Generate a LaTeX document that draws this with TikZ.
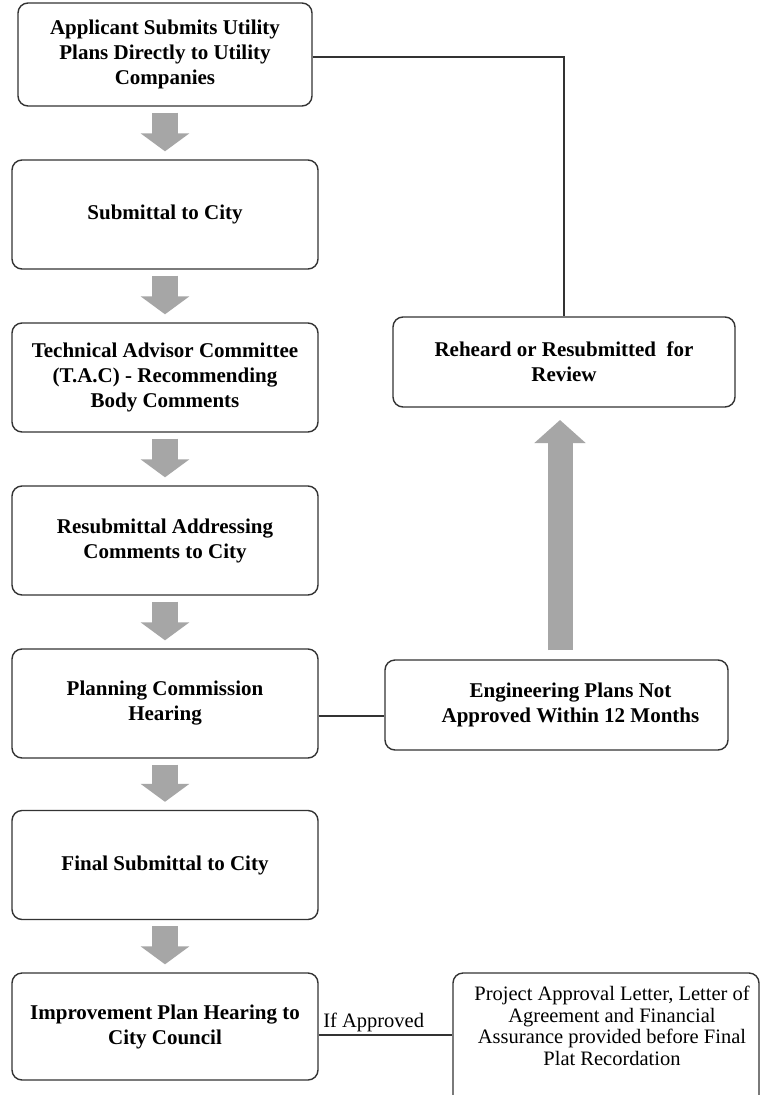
\documentclass[tikz,border=0pt]{standalone}
\usepackage{fontspec}
\setmainfont{Liberation Serif}
\usetikzlibrary{arrows.meta}
\begin{document}
\begin{tikzpicture}[x=1pt,y=-1pt,
  box/.style={draw=black!80, line width=1.4pt, rounded corners=10pt, fill=white,
    align=center, inner sep=0pt, font=\fontsize{21}{25}\selectfont\bfseries},
  lbox/.style={box, minimum width=306pt, minimum height=109pt},
  conn/.style={draw=black!80, line width=1.2pt},
  blockarrow/.style={line width=26pt, color=black!35, line cap=butt,
    -{Triangle[width=48pt,length=18pt]}},
  uparrow/.style={line width=25pt, color=black!35, line cap=butt,
    -{Triangle[width=50pt,length=23pt]}},
  plain/.style={font=\fontsize{20.5}{21.5}\selectfont, align=center, inner sep=0pt}
]
\useasboundingbox (0,0) rectangle (760,1095);
\fill[white] (0,0) rectangle (760,1095);

\node[box, minimum width=294pt, minimum height=103pt] (b1) at (165,54.5)
  {Applicant Submits Utility\\Plans Directly to Utility\\Companies};
\node[lbox] (b2) at (165,214.5) {Submittal to City};
\node[lbox] (b3) at (165,377.5) {Technical Advisor Committee\\(T.A.C) - Recommending\\Body Comments};
\node[lbox] (b4) at (165,540.5) {Resubmittal Addressing\\Comments to City};
\node[lbox] (b5) at (165,703.5) {Planning Commission\\Hearing};
\node[lbox] (b6) at (165,865) {Final Submittal to City};
\node[lbox, minimum height=107pt] (b7) at (165,1026.5) {Improvement Plan Hearing to\\City Council};

\node[box, minimum width=342pt, minimum height=90pt] (reh) at (564,362)
  {Reheard or Resubmitted\ \ for\\Review};
\node[box, minimum width=343pt, minimum height=90pt] (eng) at (556.5,705)
  {\hspace*{28pt}Engineering Plans Not\\\hspace*{28pt}Approved Within 12 Months};
\node[box, minimum width=306pt, minimum height=150pt] (proj) at (606,1048) {};
\node[plain] (projtext) at (612,1026)
  {Project Approval Letter, Letter of\\Agreement and Financial\\Assurance provided before Final\\Plat Recordation};

% gray block arrows
\foreach \a/\b in {b1/b2,b2/b3,b3/b4,b4/b5,b5/b6,b6/b7}{
  \draw[blockarrow] ([yshift=-6pt]\a.south) -- ([yshift=8pt]\b.north);
}
\coordinate (upbot) at (560,650);
\coordinate (uptop) at (560,420);
\draw[uparrow] (upbot) -- (uptop);

% connectors
\draw[conn] ([yshift=-2.5pt]b1.east) -| (reh.north);
\draw[conn] ([yshift=-12.5pt]b5.east) -- ([yshift=-12.5pt]b5.east -| eng.west);
\draw[conn] ([yshift=-8.5pt]b7.east) -- ([yshift=-8.5pt]b7.east -| proj.west)
  node[pos=0, anchor=south west, xshift=4pt, yshift=3pt, plain] (ifa) {If Approved};
\end{tikzpicture}
\end{document}
